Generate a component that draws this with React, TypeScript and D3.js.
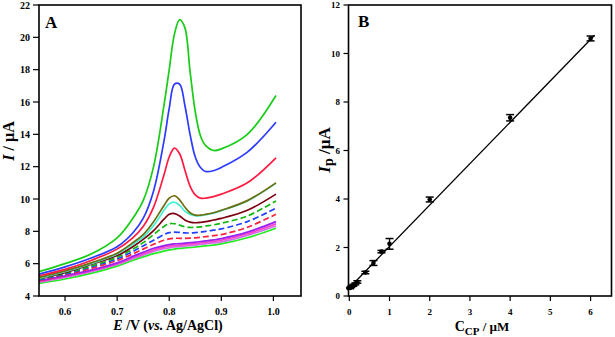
import React from "react";
import * as d3 from "d3";

// ---------- Panel A data (DPV curves) ----------
const E = [0.55, 0.6, 0.65, 0.7, 0.73, 0.75, 0.77, 0.79, 0.8, 0.81, 0.82, 0.83, 0.84, 0.85, 0.86, 0.87, 0.885, 0.9, 0.95, 1.005];

const curveGreen = [5.5, 6.0, 6.6, 7.6, 8.8, 9.9, 12.0, 15.8, 18.0, 20.2, 21.1, 20.6, 17.9, 15.4, 13.9, 13.3, 13.0, 13.1, 14.0, 16.4];
const curveBlue = [5.35, 5.8, 6.35, 7.05, 7.9, 8.8, 10.5, 13.6, 15.6, 17.1, 17.1, 15.8, 14.0, 12.6, 11.95, 11.7, 11.75, 11.95, 12.9, 14.75];
const curveRed = [5.25, 5.65, 6.2, 6.9, 7.6, 8.3, 9.5, 11.5, 12.6, 13.15, 12.8, 11.8, 10.8, 10.25, 10.05, 10.05, 10.15, 10.3, 11.0, 12.55];
const curveCyan = [5.1, 5.5, 6.0, 6.6, 7.2, 7.65, 8.35, 9.3, 9.7, 9.8, 9.6, 9.25, 9.05, 8.97, 8.97, 9.03, 9.13, 9.28, 9.88, 10.98];
const curveOlive = [5.15, 5.55, 6.05, 6.65, 7.3, 7.8, 8.6, 9.6, 10.05, 10.2, 9.95, 9.5, 9.15, 9.0, 9.0, 9.05, 9.15, 9.3, 9.9, 11.0];
const curveMaroon = [5.1, 5.45, 5.95, 6.5, 7.05, 7.5, 8.05, 8.75, 9.05, 9.1, 8.95, 8.7, 8.57, 8.53, 8.55, 8.6, 8.7, 8.8, 9.3, 10.3];
const curveGreenDash = [5.05, 5.4, 5.85, 6.4, 6.9, 7.3, 7.8, 8.3, 8.47, 8.47, 8.38, 8.28, 8.24, 8.25, 8.28, 8.33, 8.4, 8.5, 8.95, 9.88];
const curveBlueDash = [5.0, 5.35, 5.8, 6.3, 6.75, 7.1, 7.45, 7.8, 7.92, 7.95, 7.93, 7.9, 7.9, 7.92, 7.95, 8.0, 8.07, 8.15, 8.6, 9.43];
const curveRedDash = [4.95, 5.3, 5.7, 6.2, 6.6, 6.9, 7.2, 7.45, 7.53, 7.57, 7.57, 7.57, 7.58, 7.6, 7.63, 7.67, 7.73, 7.8, 8.25, 9.06];
const curvePurple = [4.95, 5.25, 5.6, 6.05, 6.45, 6.7, 6.95, 7.12, 7.18, 7.22, 7.24, 7.27, 7.3, 7.33, 7.37, 7.41, 7.47, 7.55, 7.95, 8.6];
const curveMagenta = [4.9, 5.2, 5.55, 6.0, 6.38, 6.6, 6.85, 7.02, 7.08, 7.12, 7.15, 7.18, 7.21, 7.24, 7.28, 7.32, 7.38, 7.45, 7.85, 8.46];
const curveViolet = [4.85, 5.15, 5.5, 5.95, 6.3, 6.52, 6.75, 6.92, 6.98, 7.03, 7.06, 7.09, 7.12, 7.15, 7.19, 7.23, 7.29, 7.35, 7.75, 8.33];
const curveLime = [4.78, 5.05, 5.4, 5.85, 6.2, 6.42, 6.62, 6.78, 6.85, 6.9, 6.94, 6.97, 7.0, 7.03, 7.07, 7.1, 7.15, 7.22, 7.6, 8.19];

const xTicksA = [0.6, 0.7, 0.8, 0.9, 1.0];
const yTicksA = [4, 6, 8, 10, 12, 14, 16, 18, 20, 22];

// ---------- Panel B data (calibration) ----------
const conc = [0.02, 0.05, 0.1, 0.15, 0.2, 0.4, 0.6, 0.8, 1, 2, 4, 6];
const peakI = [0.33, 0.38, 0.44, 0.5, 0.58, 0.97, 1.36, 1.83, 2.15, 3.98, 7.35, 10.62];
const peakErr = [0.03, 0.03, 0.04, 0.04, 0.05, 0.05, 0.1, 0.05, 0.22, 0.1, 0.13, 0.1];
const fitX = [-0.05, 6.1];
const fitY = [0.25, 10.75];
const xTicksB = [0, 1, 2, 3, 4, 5, 6];
const yTicksB = [0, 2, 4, 6, 8, 10, 12];

const FONT = "'Liberation Serif', 'Times New Roman', serif";

export default function App() {
  // Panel A scales
  const ax = d3.scaleLinear().domain([0.55, 1.053]).range([39, 301]);
  const ay = d3.scaleLinear().domain([4, 22]).range([296, 5]);
  // Panel B scales
  const bx = d3.scaleLinear().domain([-0.02, 6.52]).range([348.5, 611.5]);
  const by = d3.scaleLinear().domain([0, 12]).range([296, 5]);

  const lineA = (vals: number[]) =>
    d3
      .line<number>()
      .x((_, i) => ax(E[i]))
      .y((d) => ay(d))
      .curve(d3.curveCatmullRom.alpha(0.5))(vals) || "";

  const series: { v: number[]; c: string; dash?: string }[] = [
    { v: curveLime, c: "#22ee22" },
    { v: curveViolet, c: "#d070e8" },
    { v: curveMagenta, c: "#ff40c8" },
    { v: curvePurple, c: "#9a22f0" },
    { v: curveRedDash, c: "#ff2040", dash: "6,3" },
    { v: curveBlueDash, c: "#2040ff", dash: "6,3" },
    { v: curveGreenDash, c: "#10b810", dash: "6,3" },
    { v: curveMaroon, c: "#7a0010" },
    { v: curveCyan, c: "#40f0d0" },
    { v: curveOlive, c: "#6c6c10" },
    { v: curveRed, c: "#ff1a40" },
    { v: curveBlue, c: "#2b3bff" },
    { v: curveGreen, c: "#18cc18" },
  ];

  const tickFont = { fontFamily: FONT, fontWeight: 700 } as const;

  return (
    <svg
      width={615}
      height={337}
      style={{ position: "absolute", left: 0, top: 0, background: "#fff" }}
    >
      <rect x={0} y={0} width={615} height={337} fill="#fff" />
      {/* ---------- Panel A ---------- */}
      <defs>
        <clipPath id="clipA">
          <rect x={39} y={5} width={262} height={291} />
        </clipPath>
      </defs>
      <g clipPath="url(#clipA)">
        {series.map((s, i) => (
          <path
            key={i}
            d={lineA(s.v)}
            fill="none"
            stroke={s.c}
            strokeWidth={1.7}
            strokeDasharray={s.dash}
          />
        ))}
      </g>
      <rect x={39} y={5} width={262} height={291} fill="none" stroke="#000" strokeWidth={1.6} />
      {yTicksA.map((t) => (
        <g key={"ya" + t}>
          <line x1={33} x2={39} y1={ay(t)} y2={ay(t)} stroke="#000" strokeWidth={1.2} />
          <text x={30} y={ay(t)} dy="0.35em" textAnchor="end" fontSize={10} {...tickFont}>
            {t}
          </text>
        </g>
      ))}
      {xTicksA.map((t) => (
        <g key={"xa" + t}>
          <line x1={ax(t)} x2={ax(t)} y1={296} y2={301} stroke="#000" strokeWidth={1.2} />
          <text x={ax(t)} y={315} textAnchor="middle" fontSize={10} {...tickFont}>
            {t.toFixed(1)}
          </text>
        </g>
      ))}
      <text x={45} y={28} fontSize={17} {...tickFont}>
        A
      </text>
      <text
        transform={`translate(14,141) rotate(-90)`}
        textAnchor="middle"
        fontSize={16}
        {...tickFont}
      >
        <tspan fontStyle="italic">I</tspan> / µA
      </text>
      <text x={168} y={330} textAnchor="middle" fontSize={14} {...tickFont}>
        <tspan fontStyle="italic">E</tspan> /V (<tspan fontStyle="italic">vs.</tspan> Ag/AgCl)
      </text>

      {/* ---------- Panel B ---------- */}
      <line
        x1={bx(fitX[0])}
        y1={by(fitY[0])}
        x2={bx(fitX[1])}
        y2={by(fitY[1])}
        stroke="#000"
        strokeWidth={1.3}
      />
      {conc.map((c, i) => (
        <g key={"pt" + i}>
          <line
            x1={bx(c)}
            x2={bx(c)}
            y1={by(peakI[i] - peakErr[i])}
            y2={by(peakI[i] + peakErr[i])}
            stroke="#000"
            strokeWidth={1.3}
          />
          <line
            x1={bx(c) - 4}
            x2={bx(c) + 4}
            y1={by(peakI[i] - peakErr[i])}
            y2={by(peakI[i] - peakErr[i])}
            stroke="#000"
            strokeWidth={1.5}
          />
          <line
            x1={bx(c) - 4}
            x2={bx(c) + 4}
            y1={by(peakI[i] + peakErr[i])}
            y2={by(peakI[i] + peakErr[i])}
            stroke="#000"
            strokeWidth={1.5}
          />
          <circle cx={bx(c)} cy={by(peakI[i])} r={2.3} fill="#000" />
        </g>
      ))}
      <rect x={348.5} y={5} width={263} height={291} fill="none" stroke="#000" strokeWidth={1.6} />
      {yTicksB.map((t) => (
        <g key={"yb" + t}>
          <line x1={343.5} x2={348.5} y1={by(t)} y2={by(t)} stroke="#000" strokeWidth={1.2} />
          <text x={340} y={by(t)} dy="0.35em" textAnchor="end" fontSize={9} {...tickFont}>
            {t}
          </text>
        </g>
      ))}
      {xTicksB.map((t) => (
        <g key={"xb" + t}>
          <line x1={bx(t)} x2={bx(t)} y1={296} y2={301} stroke="#000" strokeWidth={1.2} />
          <text x={bx(t)} y={315} textAnchor="middle" fontSize={9} {...tickFont}>
            {t}
          </text>
        </g>
      ))}
      <text x={358} y={27} fontSize={17} {...tickFont}>
        B
      </text>
      <text
        transform={`translate(330,150) rotate(-90)`}
        textAnchor="middle"
        fontSize={17}
        {...tickFont}
      >
        <tspan fontStyle="italic">I</tspan>
        <tspan fontSize={14} dy={3}>p</tspan>
        <tspan dy={-3}> /µA</tspan>
      </text>
      <text x={482} y={331} textAnchor="middle" fontSize={14} {...tickFont}>
        C<tspan fontSize={11} dy={4}>CP</tspan>
        <tspan dy={-4} fontSize={13}> / µM</tspan>
      </text>
    </svg>
  );
}
